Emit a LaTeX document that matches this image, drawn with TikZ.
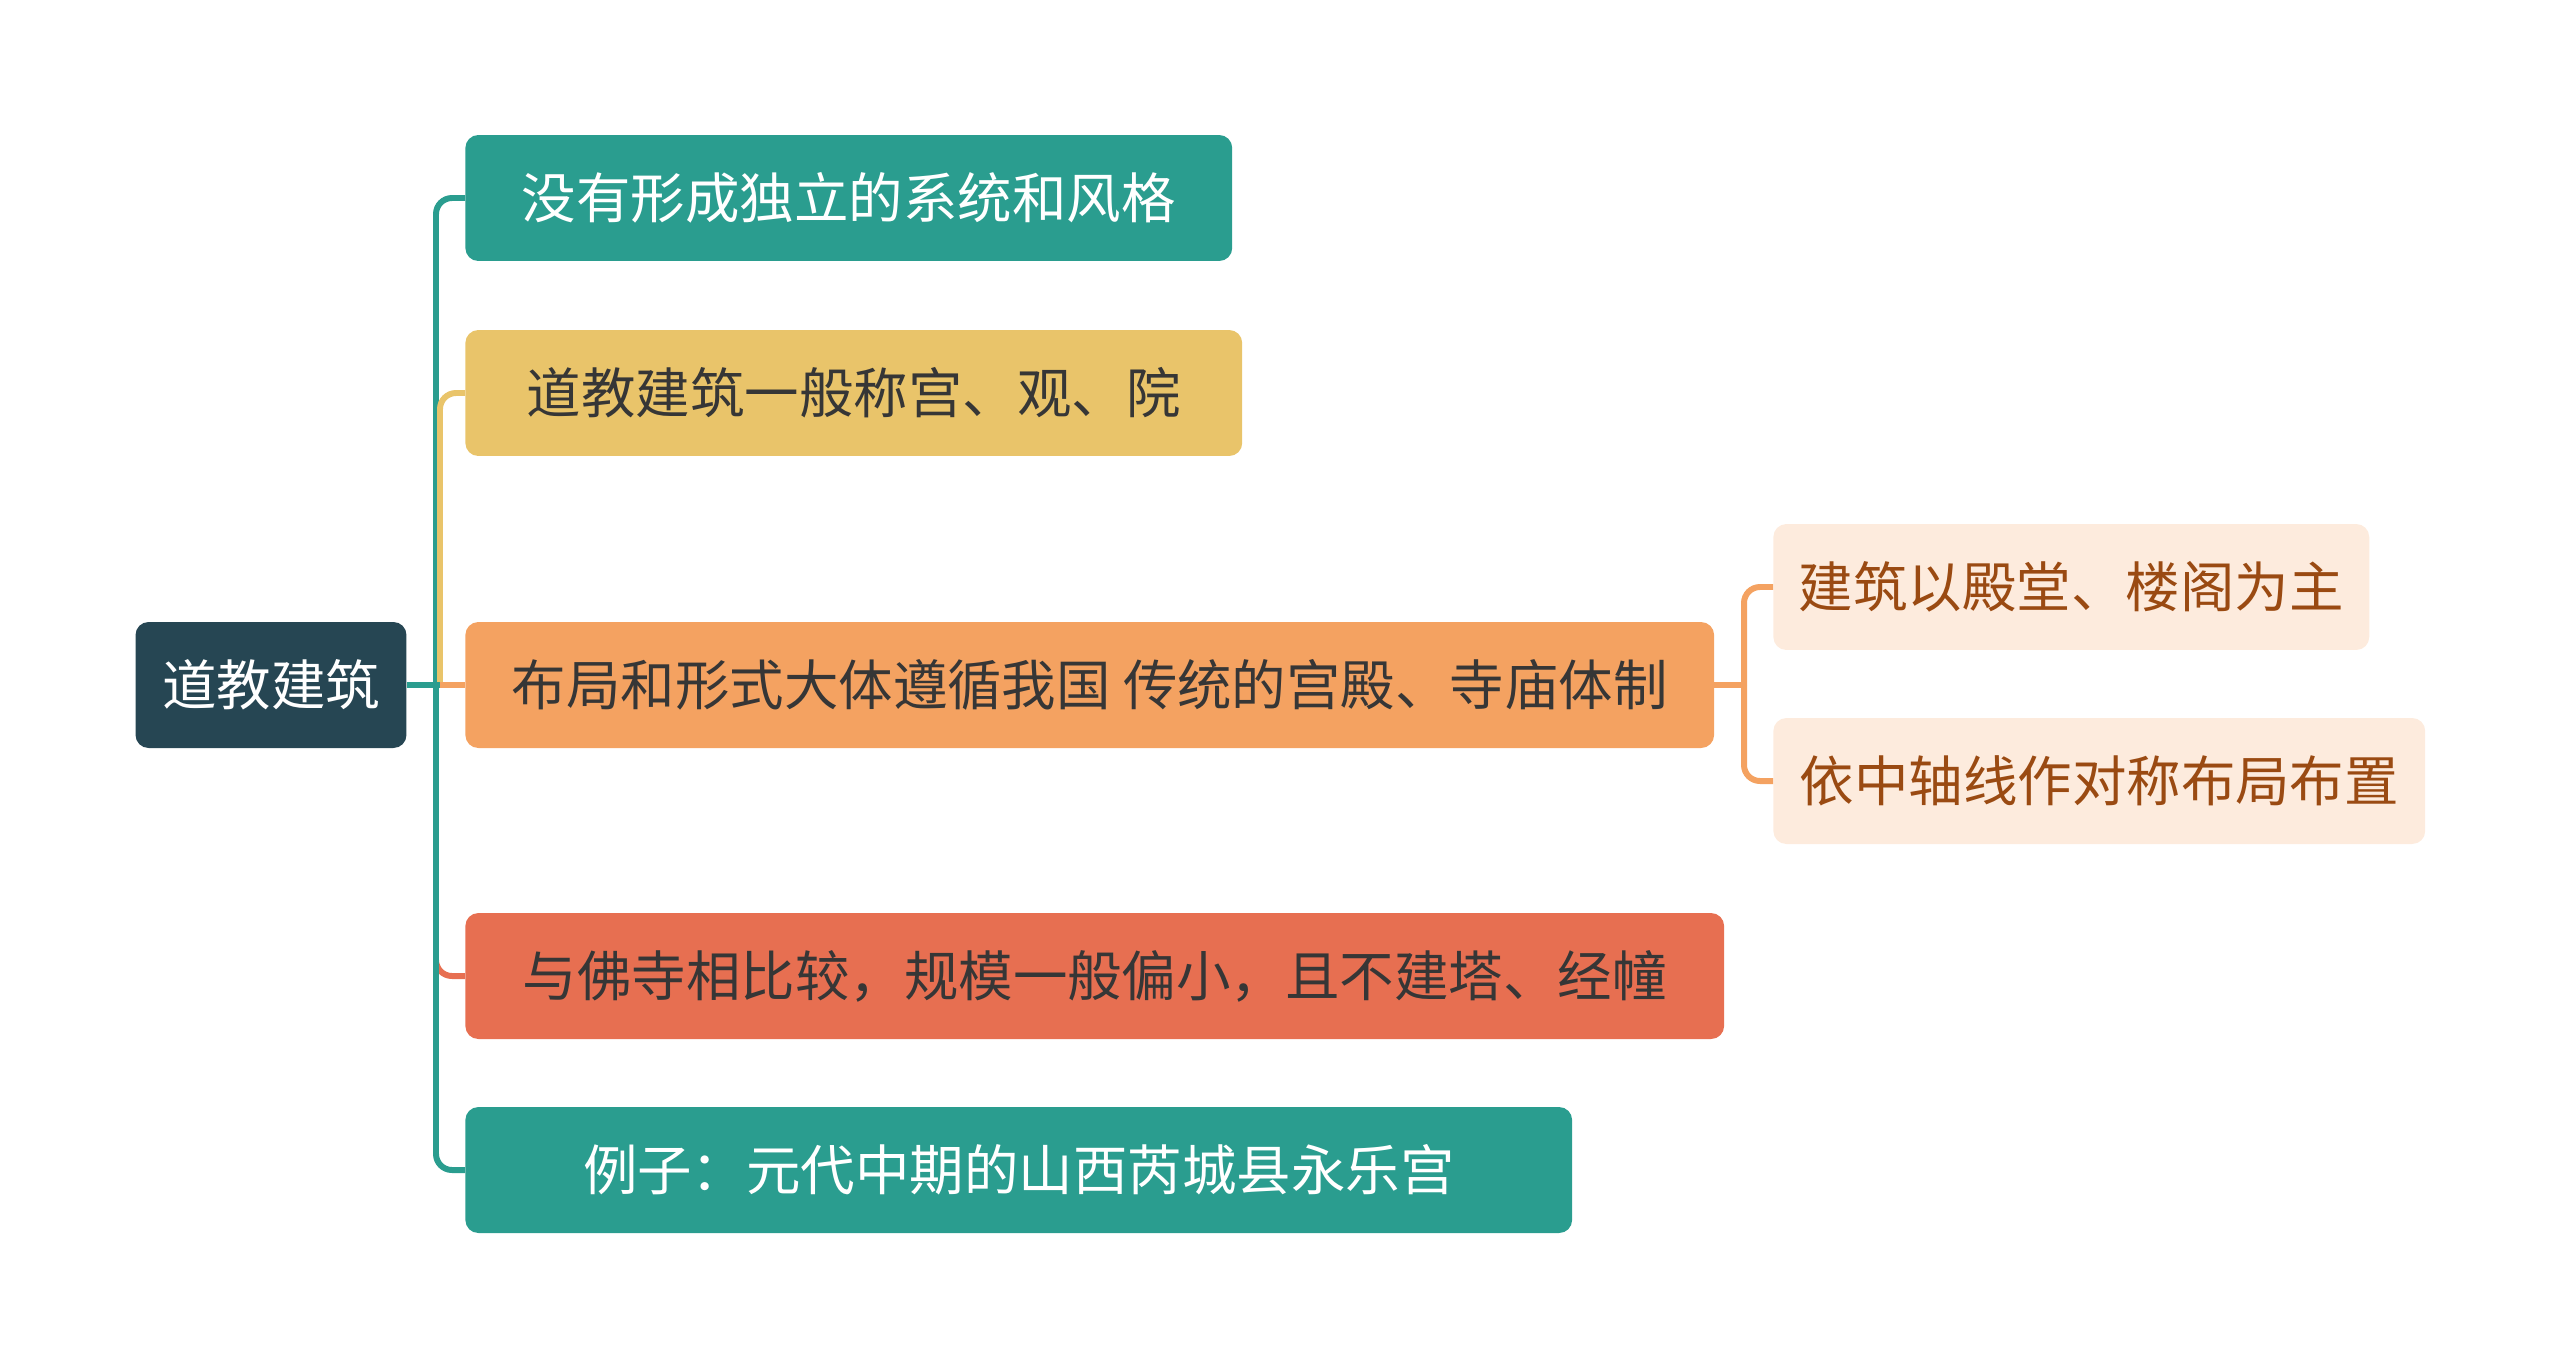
\documentclass[tikz,border=0pt]{standalone}
\usepackage{fontspec}
\setmainfont{Noto Sans CJK SC}
\usepackage{tikz}

\definecolor{rootc}{HTML}{264653}
\definecolor{tealc}{HTML}{2A9D8F}
\definecolor{yellowc}{HTML}{E9C46A}
\definecolor{orangec}{HTML}{F4A261}
\definecolor{redc}{HTML}{E76F51}
\definecolor{peachc}{HTML}{FDEBDD}
\definecolor{brownc}{HTML}{9A4A12}
\definecolor{darktext}{HTML}{363636}

\tikzset{
  box/.style={rounded corners=0.26cm, inner sep=0pt, minimum height=2.52cm,
    font=\fontsize{31}{37}\selectfont},
  link/.style={line width=3.4pt, rounded corners=0.32cm}
}

\begin{document}
\begin{tikzpicture}[x=0.02cm, y=-0.02cm]
			\useasboundingbox (0,0) rectangle (2560,1370);
			
			\node[box, fill=rootc, text=white, minimum width=5.42cm] (root) at (271,685){道教建筑};
			
			\node[box, fill=tealc, text=white, minimum width=15.34cm, anchor=west] (n1) at (465,198){没有形成独立的系统和风格};
			\node[box, fill=yellowc, text=darktext, minimum width=15.54cm, anchor=west] (n2) at (465,393){道教建筑一般称宫、观、院};
			\node[box, fill=orangec, text=darktext, minimum width=24.98cm, anchor=west] (n3) at (465,685){布局和形式大体遵循我国 传统的宫殿、寺庙体制};
			\node[box, fill=redc, text=darktext, minimum width=25.18cm, anchor=west] (n4) at (465,976){与佛寺相比较，规模一般偏小，且不建塔、经幢};
			\node[box, fill=tealc, text=white, minimum width=22.14cm, anchor=west] (n5) at (465,1170){例子：元代中期的山西芮城县永乐宫};
			
			\node[box, fill=peachc, text=brownc, minimum width=11.92cm, anchor=west] (c1) at (1773,587){建筑以殿堂、楼阁为主};
			\node[box, fill=peachc, text=brownc, minimum width=13.04cm, anchor=west] (c2) at (1773,781){依中轴线作对称布局布置};
			
			\coordinate (tr) at (436,685);
			\coordinate (tr2) at (440,685);
			\coordinate (ct) at (1744,685);
			
			\draw[link, redc] (tr) |- (n4.west);
			\draw[link, tealc] (tr) |- (n1.west);
			\draw[link, yellowc] (tr2) |- (n2.west);
			\draw[link, orangec] (tr2) -- (n3.west);
			\draw[link, tealc] (tr) |- (n5.west);
			\draw[link, tealc] (root.east) -- (tr2);
			
			\draw[link, orangec] (n3.east) -- (ct);
			\draw[link, orangec] (ct) |- (c1.west);
			\draw[link, orangec] (ct) |- (c2.west);
\end{tikzpicture}
\end{document}
